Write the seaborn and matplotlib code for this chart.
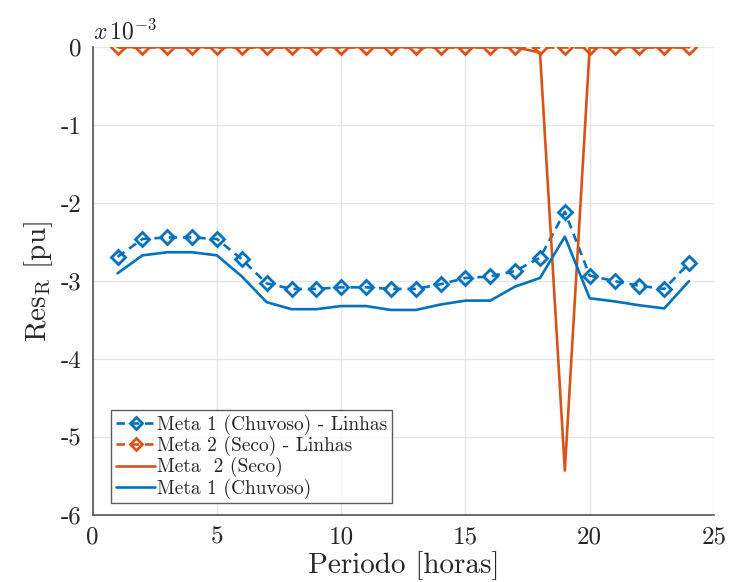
import numpy as np
import pandas as pd
import matplotlib
matplotlib.use("Agg")
import matplotlib.pyplot as plt
import seaborn as sns

# Data (values in units of 1e-3 pu)
hours = list(range(1, 25))
meta1_linhas = [-2.69, -2.46, -2.44, -2.44, -2.46, -2.72, -3.03, -3.10, -3.10, -3.08, -3.08, -3.10,
                -3.10, -3.04, -2.96, -2.94, -2.87, -2.70, -2.11, -2.93, -3.00, -3.06, -3.10, -2.77]
meta2_linhas = [0.0] * 24
meta2_seco = [0.0] * 17 + [-0.07, -5.43, 0.0, 0.0, 0.0, 0.0, 0.0]
meta1_chuvoso = [-2.90, -2.67, -2.63, -2.63, -2.67, -2.94, -3.27, -3.36, -3.36, -3.32, -3.32, -3.37,
                 -3.37, -3.30, -3.25, -3.25, -3.07, -2.96, -2.43, -3.22, -3.26, -3.31, -3.35, -3.00]

labels = ["Meta 1 (Chuvoso) - Linhas", "Meta 2 (Seco) - Linhas", "Meta  2 (Seco)", "Meta 1 (Chuvoso)"]
xticks = [0, 5, 10, 15, 20, 25]
yticks = [-6, -5, -4, -3, -2, -1, 0]

blue = "#0072BD"
orange = "#D95319"

sns.set_theme(style="white")
plt.rcParams["font.family"] = ["cmr10", "DejaVu Serif"]
plt.rcParams["mathtext.fontset"] = "cm"
plt.rcParams["axes.unicode_minus"] = False
plt.rcParams["axes.formatter.use_mathtext"] = True

fig = plt.figure(figsize=(7.30, 5.82), dpi=100)
ax = fig.add_axes([0.127, 0.115, 0.851, 0.804])

df = pd.DataFrame({"h": hours, "m1l": meta1_linhas, "m2l": meta2_linhas,
                   "m2s": meta2_seco, "m1c": meta1_chuvoso})

lw = 1.9
sns.lineplot(data=df, x="h", y="m1l", ax=ax, color=blue, lw=lw, marker="D", markersize=7,
             markerfacecolor="none", markeredgecolor=blue, markeredgewidth=2,
             label=labels[0], dashes=False)
sns.lineplot(data=df, x="h", y="m2l", ax=ax, color=orange, lw=lw, marker="D", markersize=7,
             markerfacecolor="none", markeredgecolor=orange, markeredgewidth=2,
             label=labels[1], dashes=False)
sns.lineplot(data=df, x="h", y="m2s", ax=ax, color=orange, lw=lw, label=labels[2])
sns.lineplot(data=df, x="h", y="m1c", ax=ax, color=blue, lw=lw, label=labels[3])

for ln in ax.lines[:2]:
    ln.set_linestyle((0, (3.2, 2.2)))

ax.set_xlim(0, 25)
ax.set_ylim(-6, 0)
ax.set_xticks(xticks)
ax.set_yticks(yticks)
ax.set_xticklabels([str(t) for t in xticks])
ax.set_yticklabels([str(t) for t in yticks])
ax.tick_params(axis="both", labelsize=18, direction="in", length=4, color="#444444",
               labelcolor="#262626", pad=8)
ax.grid(True, color="#e6e6e6", lw=1)
for s in ["top", "right"]:
    ax.spines[s].set_visible(False)
for s in ["left", "bottom"]:
    ax.spines[s].set_color("#555555")
    ax.spines[s].set_linewidth(1.2)

ax.set_xlabel("Periodo [horas]", fontsize=21, color="#262626", labelpad=2)
ax.set_ylabel(r"$\mathrm{Res}_{\mathrm{R}}$ [pu]", fontsize=21, color="#262626", labelpad=4)
ax.text(0.0, 1.005, r"$x\,10^{-3}$", transform=ax.transAxes, fontsize=17,
        ha="left", va="bottom", color="#262626")

leg = ax.legend(loc="lower left", bbox_to_anchor=(0.03, 0.025), fontsize=14,
                frameon=True, fancybox=False, handlelength=2.0, handletextpad=0.1,
                borderpad=0.25, labelspacing=0.05, borderaxespad=0)
leg.get_frame().set_edgecolor("#333333")
leg.get_frame().set_linewidth(1)
for h in leg.legend_handles:
    if h.get_marker() not in (None, "None", ""):
        h.set_markersize(6)

fig.savefig("out.png", dpi=100)
